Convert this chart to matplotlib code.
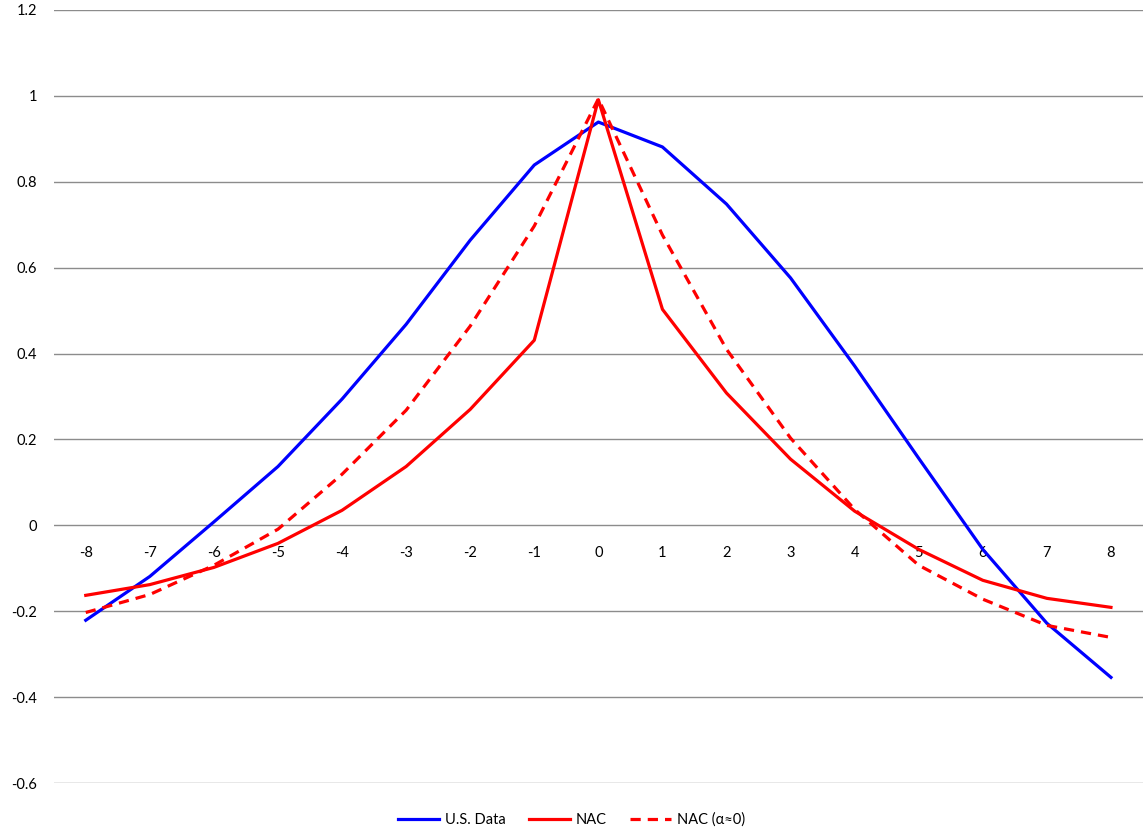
import matplotlib.pyplot as plt
from matplotlib.ticker import MultipleLocator

plt.rcParams['font.family'] = ['Lato', 'DejaVu Sans']
plt.rcParams['axes.unicode_minus'] = False

# lags shown on the category axis
lags = list(range(-8, 9))

# values
us_data = [-0.221, -0.119, 0.008, 0.137, 0.294, 0.468, 0.664, 0.839, 0.939,
           0.881, 0.748, 0.576, 0.371, 0.156, -0.056, -0.228, -0.354]
nac = [-0.163, -0.138, -0.098, -0.042, 0.035, 0.137, 0.270, 0.431, 0.991,
       0.503, 0.308, 0.154, 0.033, -0.056, -0.128, -0.170, -0.191]
nac_alpha0 = [-0.203, -0.161, -0.093, -0.009, 0.119, 0.268, 0.464, 0.697, 0.993,
              0.676, 0.410, 0.203, 0.037, -0.093, -0.172, -0.233, -0.261]

labels = ['U.S. Data', 'NAC', 'NAC (\u03b1\u22480)']


def main():
    fig = plt.figure(figsize=(11.43, 8.3), dpi=100)
    ax = fig.add_axes([0.047, 0.0566, 0.953, 0.9314])

    ax.plot(lags, us_data, color='#0000ff', lw=2.3, label=labels[0])
    ax.plot(lags, nac, color='#ff0000', lw=2.3, label=labels[1])
    ax.plot(lags, nac_alpha0, color='#ff0000', lw=2.3, linestyle=(0, (3.2, 2.2)),
            label=labels[2])

    ax.set_xlim(-8.5, 8.5)
    ax.set_ylim(-0.6, 1.2)
    ax.yaxis.set_major_locator(MultipleLocator(0.2))
    ax.yaxis.set_major_formatter(lambda v, p: '{:g}'.format(round(v, 1)))
    ax.grid(True, axis='y', color='#8c8c8c', lw=1)
    ax.set_axisbelow(True)

    # category axis crosses at y = 0, labels sit just below it
    ax.set_xticks(lags)
    ax.spines['bottom'].set_position(('data', 0))
    for s in ['bottom', 'top', 'left', 'right']:
        ax.spines[s].set_visible(False)
    ax.tick_params(axis='x', length=0, pad=15, labelsize=10.5, colors='#000000')
    ax.tick_params(axis='y', length=0, pad=12, labelsize=10.5, colors='#000000')

    fig.legend(loc='lower center', bbox_to_anchor=(0.5, -0.012), ncol=3,
               frameon=False, fontsize=10.5, handlelength=2.8,
               handletextpad=0.4, columnspacing=1.6)

    fig.savefig('out.png', dpi=100)


if __name__ == '__main__':
    main()
